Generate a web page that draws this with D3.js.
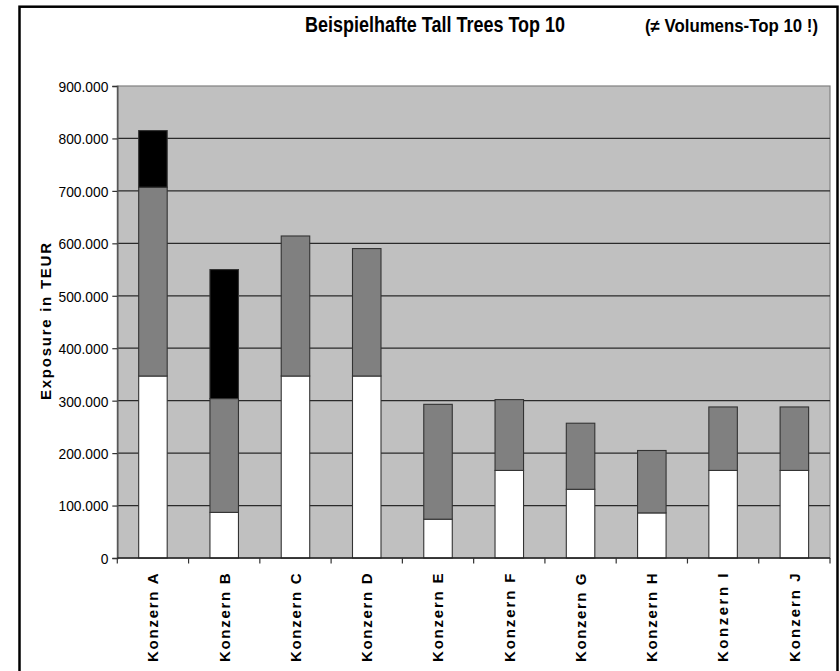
<!DOCTYPE html>
<html>
<head>
<meta charset="utf-8">
<script src="https://cdn.jsdelivr.net/npm/d3@7"></script>
<style>
  html, body { margin: 0; padding: 0; background: #ffffff; }
  svg { display: block; }
  text { font-family: "Liberation Sans", Arial, sans-serif; fill: #000; }
</style>
</head>
<body>
<svg id="chart" width="840" height="671"></svg>
<script>
// ---- data (values in EUR thousands) ----
const categories = ["Konzern A","Konzern B","Konzern C","Konzern D","Konzern E","Konzern F","Konzern G","Konzern H","Konzern I","Konzern J"];
const seriesWhite = [347000, 87000, 347000, 347000, 74000, 167000, 131000, 86000, 167000, 167000];
const seriesGray  = [360000, 217000, 267000, 243000, 219000, 135000, 126000, 119000, 121000, 121000];
const seriesBlack = [108000, 246000, 0, 0, 0, 0, 0, 0, 0, 0];
const yTicks = [0, 100000, 200000, 300000, 400000, 500000, 600000, 700000, 800000, 900000];
const titleText = "Beispielhafte Tall Trees Top 10";
const subtitleText = "(\u2260 Volumens-Top 10 !)";
const yAxisTitle = "Exposure in TEUR";

const seriesKeys = ["white", "gray", "black"];
const seriesColors = { white: "#ffffff", gray: "#808080", black: "#000000" };

const table = categories.map((c, i) => ({ cat: c, white: seriesWhite[i], gray: seriesGray[i], black: seriesBlack[i] }));

const svg = d3.select("#chart");
const plot = { left: 117.3, right: 830, top: 86, bottom: 558 };

// frame
svg.append("rect")
  .attr("x", 19.5).attr("y", 6.7)
  .attr("width", 818).attr("height", 720)
  .attr("fill", "none").attr("stroke", "#000").attr("stroke-width", 2.5);

const y = d3.scaleLinear().domain([0, 900000]).range([plot.bottom, plot.top]);
const x = d3.scaleBand().domain(categories).range([plot.left, plot.right]).paddingInner(0.6).paddingOuter(0.3);
const slot = (plot.right - plot.left) / categories.length;

// plot background
svg.append("rect")
  .attr("x", plot.left).attr("y", plot.top)
  .attr("width", plot.right - plot.left).attr("height", plot.bottom - plot.top)
  .attr("fill", "#c0c0c0").attr("stroke", "#808080").attr("stroke-width", 1.2);

// gridlines
svg.append("g").selectAll("line")
  .data(yTicks.filter(t => t > 0 && t < 900000))
  .join("line")
  .attr("x1", plot.left).attr("x2", plot.right)
  .attr("y1", d => y(d)).attr("y2", d => y(d))
  .attr("stroke", "#2a2a2a").attr("stroke-width", 1.3);

// bars
const stacked = d3.stack().keys(seriesKeys)(table);
const barG = svg.append("g");
stacked.forEach(layer => {
  barG.append("g").selectAll("rect")
    .data(layer.filter(d => d[1] - d[0] > 0))
    .join("rect")
    .attr("x", d => x(d.data.cat))
    .attr("width", x.bandwidth())
    .attr("y", d => y(d[1]))
    .attr("height", d => y(d[0]) - y(d[1]))
    .attr("fill", seriesColors[layer.key])
    .attr("stroke", "#333")
    .attr("stroke-width", 1.1);
});

// y axis
const fmt = d3.formatLocale({ decimal: ",", thousands: ".", grouping: [3], currency: ["", "€"] }).format(",.0f");
const yAxis = svg.append("g")
  .attr("transform", `translate(${plot.left},0)`)
  .call(d3.axisLeft(y).tickValues(yTicks).tickFormat(fmt).tickSize(5).tickPadding(4));
yAxis.select(".domain").attr("stroke", "#555").attr("stroke-width", 1.5);
yAxis.selectAll(".tick line").attr("stroke", "#333").attr("stroke-width", 1.2);
yAxis.selectAll(".tick text")
  .attr("font-size", 15.5)
  .attr("font-family", "Liberation Sans, Arial, sans-serif")
  .attr("fill", "#000")
  .attr("dy", "0.35em")
  .each(function() {
    const t = d3.select(this);
    const xx = +t.attr("x");
    t.attr("x", null).attr("transform", `translate(${xx},0) scale(0.89,1)`);
  });

// x axis baseline and boundary ticks
svg.append("line")
  .attr("x1", plot.left).attr("x2", plot.right)
  .attr("y1", plot.bottom).attr("y2", plot.bottom)
  .attr("stroke", "#222").attr("stroke-width", 1.5);
svg.append("g").selectAll("line")
  .data(d3.range(categories.length + 1))
  .join("line")
  .attr("x1", i => plot.left + i * slot).attr("x2", i => plot.left + i * slot)
  .attr("y1", plot.bottom).attr("y2", plot.bottom + 5.5)
  .attr("stroke", "#333").attr("stroke-width", 1.2);

// x labels
svg.append("g").selectAll("text")
  .data(categories)
  .join("text")
  .attr("transform", d => `translate(${x(d) + x.bandwidth() / 2 + 5.3},573.5) rotate(-90)`)
  .attr("text-anchor", "end")
  .attr("font-size", 15)
  .attr("font-weight", "bold")
  .attr("textLength", 88.5)
  .attr("lengthAdjust", "spacing")
  .text(d => d);

// y axis title
svg.append("text")
  .attr("transform", "translate(50.5,321.5) rotate(-90)")
  .attr("text-anchor", "middle")
  .attr("font-size", 15)
  .attr("font-weight", "bold")
  .attr("textLength", 157)
  .attr("lengthAdjust", "spacing")
  .text(yAxisTitle);

// titles
svg.append("text")
  .attr("x", 305).attr("y", 31.7)
  .attr("font-size", 22.3)
  .attr("font-weight", "bold")
  .attr("textLength", 260)
  .attr("lengthAdjust", "spacingAndGlyphs")
  .text(titleText);

svg.append("text")
  .attr("x", 645).attr("y", 31.5)
  .attr("font-size", 17.5)
  .attr("font-weight", "bold")
  .attr("textLength", 173)
  .attr("lengthAdjust", "spacingAndGlyphs")
  .text(subtitleText);
</script>
</body>
</html>
